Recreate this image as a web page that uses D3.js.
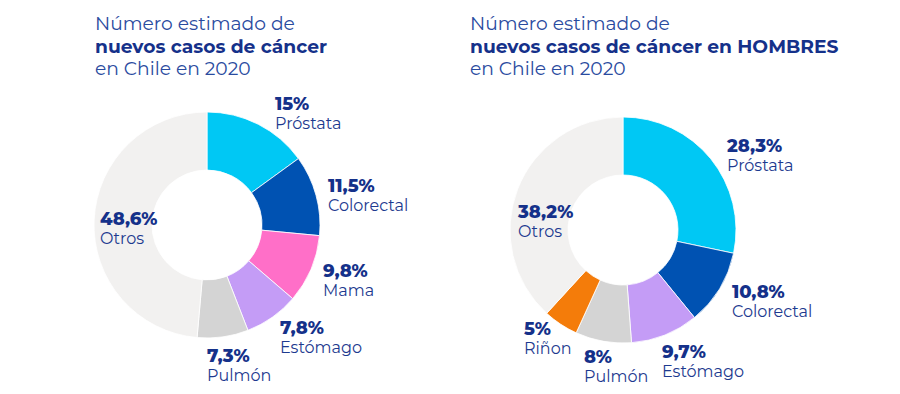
<!DOCTYPE html>
<html><head><meta charset="utf-8">
<script src="https://cdn.jsdelivr.net/npm/d3@7"></script>
<style>body{margin:0;background:#fff}svg{display:block}</style>
</head><body>
<svg id="c" width="900" height="394"></svg>
<script>
const leftCategories = ["Próstata","Colorectal","Mama","Estómago","Pulmón","Otros"];
const leftValues = [15, 11.5, 9.8, 7.8, 7.3, 48.6];
const leftLabels = ["15%","11,5%","9,8%","7,8%","7,3%","48,6%"];
const rightCategories = ["Próstata","Colorectal","Estómago","Pulmón","Riñon","Otros"];
const rightValues = [28.3, 10.8, 9.7, 8, 5, 38.2];
const rightLabels = ["28,3%","10,8%","9,7%","8%","5%","38,2%"];
const leftTitle = ["Número estimado de","nuevos casos de cáncer","en Chile en 2020"];
const rightTitle = ["Número estimado de","nuevos casos de cáncer en HOMBRES","en Chile en 2020"];

const colorMap = {"Próstata":"#00c8f4","Colorectal":"#0052b2","Mama":"#ff6fc8","Estómago":"#c49cf6","Pulmón":"#d4d4d4","Riñon":"#f47c0a","Otros":"#f2f1f0"};
const svg = d3.select("#c");
const FONT = "Montserrat, 'Open Sans', sans-serif";
const txtCol = "#1d3a8f";

function title(x, lines){
  const t = svg.append("text").attr("x",x).attr("font-family",FONT).attr("font-size",18.7).attr("fill",txtCol);
  lines.forEach((l,i)=>{
    t.append("tspan").attr("x",x).attr("y",30+i*22.5).attr("font-weight", i===1?700:400)
      .attr("fill", i===1?"#15318a":"#2a4b9f").text(l);
  });
}

function donut(cx, cy, cats, vals, labs, labelPos){
  const pie = d3.pie().sort(null).value(d=>d)(vals);
  const arc = d3.arc().innerRadius(55).outerRadius(113);
  const g = svg.append("g").attr("transform",`translate(${cx},${cy})`);
  g.selectAll("path").data(pie).join("path")
    .attr("d",arc).attr("fill",(d,i)=>colorMap[cats[i]])
    .attr("stroke","#fff").attr("stroke-width",0.8);
  cats.forEach((c,i)=>{
    const p = labelPos[i];
    const t = svg.append("text").attr("font-family",FONT).attr("fill",txtCol);
    t.append("tspan").attr("x",cx+p[0]).attr("y",cy+p[1]).attr("font-weight",800).attr("font-size",18).attr("fill","#15318a").text(labs[i]);
    t.append("tspan").attr("x",cx+p[0]).attr("y",cy+p[1]+18.5).attr("font-size",16).text(c);
  });
}

title(95, leftTitle);
title(470, rightTitle);
donut(207, 225, leftCategories, leftValues, leftLabels,
  [[68,-115],[121,-33],[116,52],[73,109],[0,137],[-107,0]]);
donut(623, 230, rightCategories, rightValues, rightLabels,
  [[104,-78],[109,68],[39,128],[-39,133],[-99,105],[-105,-12]]);
</script>
</body></html>
